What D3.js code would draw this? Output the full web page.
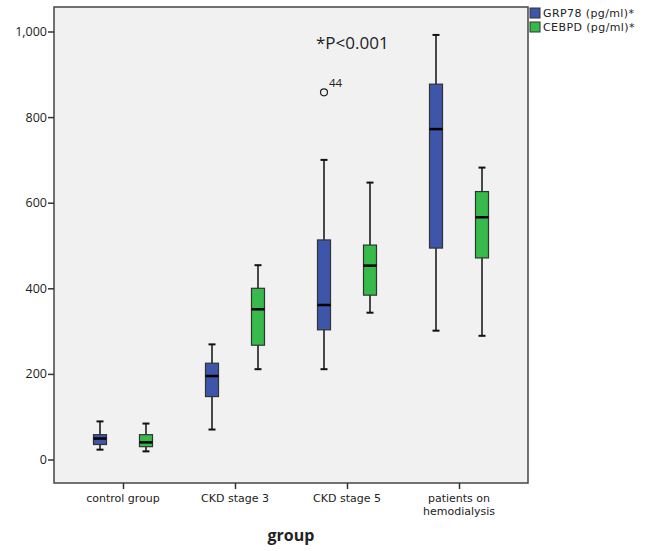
<!DOCTYPE html>
<html>
<head>
<meta charset="utf-8">
<script src="https://cdn.jsdelivr.net/npm/d3@7"></script>
<style>
body { margin: 0; background: #fff; }
text { font-family: "Open Sans", "DejaVu Sans", sans-serif; fill: #222; }
text.tight { font-family: "DejaVu Sans", sans-serif; }
</style>
</head>
<body>
<svg id="chart" width="645" height="551"></svg>
<script>
const groups = ["control group", "CKD stage 3", "CKD stage 5", "patients on hemodialysis"];
const series = ["GRP78 (pg/ml)*", "CEBPD (pg/ml)*"];
const colors = ["#3d56aa", "#36bb4a"];
// [whiskerLow, q1, median, q3, whiskerHigh] per group
const grp78 = [
  [23, 35, 49, 58, 89],
  [70, 147, 195, 225, 269],
  [211, 303, 361, 513, 700],
  [301, 494, 772, 877, 992]
];
const cebpd = [
  [19, 30, 40, 58, 84],
  [211, 267, 351, 400, 454],
  [343, 384, 453, 501, 647],
  [289, 471, 566, 626, 682]
];
const outliers = [{ group: "CKD stage 5", series: 0, value: 858, label: "44" }];
const yTicks = [0, 200, 400, 600, 800, 1000];

const svg = d3.select("#chart");
const L = 54, T = 7, R = 528, B = 483;

const y = d3.scaleLinear().domain([0, 1000]).range([459.5, 31.5]);
const x = d3.scalePoint().domain(groups).range([L, R]).padding(0.616);
const off = d3.scalePoint().domain([0, 1]).range([-23, 23]);

svg.append("rect").attr("x", L).attr("y", T).attr("width", R - L).attr("height", B - T)
  .attr("fill", "#f1f1f1").attr("stroke", "#444").attr("stroke-width", 1.5);

// y axis
const yAxis = svg.append("g").attr("transform", `translate(${L},0)`)
  .call(d3.axisLeft(y).tickValues(yTicks).tickSize(6).tickFormat(d3.format(",")));
yAxis.select(".domain").remove();
yAxis.selectAll("line").attr("stroke", "#333").attr("stroke-width", 1.5);
yAxis.selectAll("text").attr("font-size", 12.5).attr("fill", "#222").attr("x", -7)
  .style("font-family", "'Open Sans', sans-serif");

// x axis
const xAxis = svg.append("g").attr("transform", `translate(0,${B})`)
  .call(d3.axisBottom(x).tickSize(6).tickFormat(""));
xAxis.select(".domain").remove();
xAxis.selectAll("line").attr("stroke", "#333").attr("stroke-width", 1.5);

const labelLines = {
  "control group": ["control group"],
  "CKD stage 3": ["CKD stage 3"],
  "CKD stage 5": ["CKD stage 5"],
  "patients on hemodialysis": ["patients on", "hemodialysis"]
};
groups.forEach(g => {
  labelLines[g].forEach((t, i) => {
    svg.append("text").attr("class", "tight").attr("x", x(g)).attr("y", 502 + i * 13)
      .attr("text-anchor", "middle").attr("font-size", 11).text(t);
  });
});

svg.append("text").attr("x", 291).attr("y", 541).attr("text-anchor", "middle")
  .attr("font-size", 16).attr("font-weight", "bold").text("group");

// boxes
const bw = 13, cap = 7;
[grp78, cebpd].forEach((data, s) => {
  data.forEach((d, i) => {
    const cx = x(groups[i]) + off(s);
    const g = svg.append("g");
    g.append("line").attr("x1", cx).attr("x2", cx).attr("y1", y(d[0])).attr("y2", y(d[4]))
      .attr("stroke", "#111").attr("stroke-width", 1.5);
    [d[0], d[4]].forEach(v => {
      g.append("line").attr("x1", cx - cap / 2).attr("x2", cx + cap / 2)
        .attr("y1", y(v)).attr("y2", y(v)).attr("stroke", "#111").attr("stroke-width", 2);
    });
    g.append("rect").attr("x", cx - bw / 2).attr("y", y(d[3]))
      .attr("width", bw).attr("height", y(d[1]) - y(d[3]))
      .attr("fill", colors[s]).attr("stroke", "#333").attr("stroke-width", 1.2);
    g.append("line").attr("x1", cx - bw / 2).attr("x2", cx + bw / 2)
      .attr("y1", y(d[2])).attr("y2", y(d[2])).attr("stroke", "#000").attr("stroke-width", 2.5);
  });
});

outliers.forEach(o => {
  const cx = x(o.group) + off(o.series);
  svg.append("circle").attr("cx", cx).attr("cy", y(o.value)).attr("r", 3.5)
    .attr("fill", "none").attr("stroke", "#222").attr("stroke-width", 1.2);
  svg.append("text").attr("x", cx + 5).attr("y", y(o.value) - 5).attr("font-size", 11.5).text(o.label);
});

svg.append("text").attr("x", 316).attr("y", 49).attr("font-size", 17).text("*P<0.001");

// legend
series.forEach((s, i) => {
  svg.append("rect").attr("x", 530).attr("y", 8 + i * 14).attr("width", 10).attr("height", 10)
    .attr("fill", colors[i]).attr("stroke", "#333").attr("stroke-width", 1);
  svg.append("text").attr("class", "tight").attr("x", 543).attr("y", 17 + i * 14).attr("font-size", 11)
    .attr("letter-spacing", 0.4).text(s);
});
</script>
</body>
</html>
